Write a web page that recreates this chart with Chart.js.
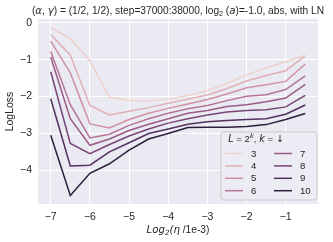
<!DOCTYPE html>
<html><head><meta charset="utf-8">
<script src="https://cdn.jsdelivr.net/npm/chart.js@4/dist/chart.umd.min.js"></script>
<style>html,body{margin:0;padding:0;background:#fff}#wrap{width:333px;height:242px}</style>
</head><body><div id="wrap"><canvas id="c" width="333" height="242"></canvas></div>
<script>
// ---- data ----
const xValues = [-7, -6.5, -6, -5.5, -5, -4.5, -4, -3.5, -3, -2.5, -2, -1.5, -1, -0.5];
const kLabels = ['3', '4', '5', '6', '7', '8', '9', '10'];
const loss_k3  = [-0.13, -0.44, -1.03, -2.02, -2.10, -2.13, -2.07, -1.97, -1.84, -1.64, -1.42, -1.22, -1.06, -0.88];
const loss_k4  = [-0.32, -0.88, -2.24, -2.50, -2.40, -2.30, -2.18, -2.07, -1.96, -1.78, -1.58, -1.43, -1.30, -0.90];
const loss_k5  = [-0.50, -1.36, -2.74, -2.85, -2.62, -2.45, -2.32, -2.20, -2.08, -1.93, -1.76, -1.68, -1.59, -1.12];
const loss_k6  = [-0.78, -2.22, -3.12, -3.02, -2.78, -2.60, -2.45, -2.33, -2.24, -2.11, -1.99, -1.95, -1.81, -1.44];
const loss_k7  = [-0.93, -2.60, -3.32, -3.15, -2.92, -2.75, -2.60, -2.45, -2.38, -2.27, -2.22, -2.14, -2.04, -1.67];
const loss_k8  = [-1.33, -3.27, -3.55, -3.30, -3.07, -2.88, -2.72, -2.60, -2.50, -2.42, -2.38, -2.36, -2.28, -1.97];
const loss_k9  = [-2.06, -3.88, -3.86, -3.50, -3.25, -3.00, -2.88, -2.75, -2.68, -2.65, -2.62, -2.60, -2.48, -2.23];
const loss_k10 = [-3.05, -4.68, -4.08, -3.82, -3.45, -3.15, -3.00, -2.84, -2.83, -2.83, -2.81, -2.76, -2.62, -2.46];
const xTicks = [-7, -6, -5, -4, -3, -2, -1];
const yTicks = [-4, -3, -2, -1, 0];

// ---- styles ----
const palette = ['#edd1cb', '#e1b0b4', '#cf91a3', '#b87496', '#9a5b88', '#774576', '#52315e', '#2d1e3e'];
const allSeries = [loss_k3, loss_k4, loss_k5, loss_k6, loss_k7, loss_k8, loss_k9, loss_k10];
const FAM = '"Liberation Sans", Arial, sans-serif';
const DJ = '"DejaVu Sans"';
const TXT = '#262626';

const datasets = allSeries.map((s, i) => ({
  label: kLabels[i],
  data: xValues.map((x, j) => ({ x: x, y: s[j] })),
  borderColor: palette[i],
  backgroundColor: palette[i],
  borderWidth: 1.5,
  pointRadius: 0,
  tension: 0,
  fill: false
}));

const fmt = v => (v < 0 ? '\u2212' + Math.abs(v) : String(v));

function drawRich(ctx, parts, cx, cy, size) {
  let total = 0;
  const ws = parts.map(p => {
    ctx.font = (p.it ? 'italic ' : '') + (size * (p.sc || 1)) + 'px ' + (p.fam || FAM);
    const w = ctx.measureText(p.t).width; total += w; return w;
  });
  let x = cx - total / 2;
  ctx.textAlign = 'left';
  ctx.textBaseline = 'alphabetic';
  parts.forEach((p, i) => {
    ctx.font = (p.it ? 'italic ' : '') + (size * (p.sc || 1)) + 'px ' + (p.fam || FAM);
    ctx.fillText(p.t, x, cy + size * 0.36 + (p.dy || 0));
    x += ws[i];
  });
}

const decor = {
  id: 'decor',
  beforeDraw(chart) {
    const { ctx, chartArea: a } = chart;
    ctx.save();
    ctx.fillStyle = '#eaeaf2';
    ctx.fillRect(a.left, a.top, a.right - a.left, a.bottom - a.top);
    ctx.restore();
  },
  afterDraw(chart) {
    const { ctx, chartArea: a } = chart;
    ctx.save();
    ctx.fillStyle = TXT;
    // title
    drawRich(ctx, [
      { t: '(' }, { t: '\u03b1', it: true, fam: DJ }, { t: ', ' },
      { t: '\u03b3', it: true, fam: DJ },
      { t: ') = (1/2, 1/2), step=37000:38000, log' }, { t: '2', sc: 0.7, dy: 2 },
      { t: ' (' }, { t: 'a', it: true, fam: DJ }, { t: ')=-1.0, abs, with LN' }
    ], (a.left + a.right) / 2, 10, 10.2);
    // x title
    drawRich(ctx, [
      { t: 'Log', it: true, fam: DJ }, { t: '2', it: true, sc: 0.7, dy: 2, fam: DJ },
      { t: '(', it: true, fam: DJ }, { t: '\u03b7', it: true, fam: DJ },
      { t: ' /1e-3)' }
    ], (a.left + a.right) / 2, 229, 10.2);
    // y title
    ctx.save();
    ctx.translate(10, (a.top + a.bottom) / 2);
    ctx.rotate(-Math.PI / 2);
    ctx.font = '10.5px ' + FAM;
    ctx.textAlign = 'center';
    ctx.textBaseline = 'middle';
    ctx.fillText('LogLoss', 0, 0);
    ctx.restore();

    // legend
    const bx = 221, by = 132, bw = 96, bh = 68, r = 3;
    ctx.beginPath();
    ctx.moveTo(bx + r, by); ctx.lineTo(bx + bw - r, by); ctx.arcTo(bx + bw, by, bx + bw, by + r, r);
    ctx.lineTo(bx + bw, by + bh - r); ctx.arcTo(bx + bw, by + bh, bx + bw - r, by + bh, r);
    ctx.lineTo(bx + r, by + bh); ctx.arcTo(bx, by + bh, bx, by + bh - r, r);
    ctx.lineTo(bx, by + r); ctx.arcTo(bx, by, bx + r, by, r); ctx.closePath();
    ctx.fillStyle = 'rgba(236,236,244,0.85)';
    ctx.fill();
    ctx.strokeStyle = '#cccccc';
    ctx.lineWidth = 1;
    ctx.stroke();
    ctx.fillStyle = TXT;
    drawRich(ctx, [
      { t: 'L', it: true, fam: DJ }, { t: ' = 2' }, { t: 'k', it: true, sc: 0.7, dy: -4, fam: DJ },
      { t: ', ' }, { t: 'k', it: true, fam: DJ }, { t: ' = ' }, { t: '\u2193', fam: DJ }
    ], 256, 138.5, 9.6);
    chart.data.datasets.forEach((ds, i) => {
      const col = Math.floor(i / 4), row = i % 4;
      const lx = col === 0 ? 225 : 274;
      const ly = 153.5 + row * 12.4;
      ctx.strokeStyle = ds.borderColor;
      ctx.lineWidth = 1.5;
      ctx.beginPath(); ctx.moveTo(lx, ly); ctx.lineTo(lx + 18, ly); ctx.stroke();
      ctx.fillStyle = TXT;
      ctx.font = '9.6px ' + FAM;
      ctx.textAlign = 'left';
      ctx.textBaseline = 'middle';
      ctx.fillText(ds.label, lx + 26, ly + 0.5);
    });
    ctx.restore();
  }
};

new Chart(document.getElementById('c'), {
  type: 'line',
  data: { datasets: datasets },
  options: {
    responsive: false,
    animation: false,
    devicePixelRatio: 1,
    layout: { padding: { top: 19, right: 15, left: 0, bottom: 0 } },
    plugins: { legend: { display: false }, title: { display: false }, tooltip: { enabled: false } },
    scales: {
      x: {
        type: 'linear', min: -7.325, max: -0.175,
        afterBuildTicks: s => { s.ticks = xTicks.map(v => ({ value: v })); },
        afterFit: s => { s.height = 38; },
        grid: { color: '#ffffff', lineWidth: 1, drawTicks: false },
        border: { display: false },
        ticks: { padding: 7, color: TXT, font: { family: FAM, size: 10.5 }, callback: v => fmt(v), maxRotation: 0 }
      },
      y: {
        type: 'linear', min: -4.91, max: 0.10,
        afterBuildTicks: s => { s.ticks = yTicks.map(v => ({ value: v })); },
        afterFit: s => { s.width = 38; },
        grid: { color: '#ffffff', lineWidth: 1, drawTicks: false },
        border: { display: false },
        ticks: { padding: 6, color: TXT, font: { family: FAM, size: 10.5 }, callback: v => fmt(v) }
      }
    }
  },
  plugins: [decor]
});
</script>
</body></html>
